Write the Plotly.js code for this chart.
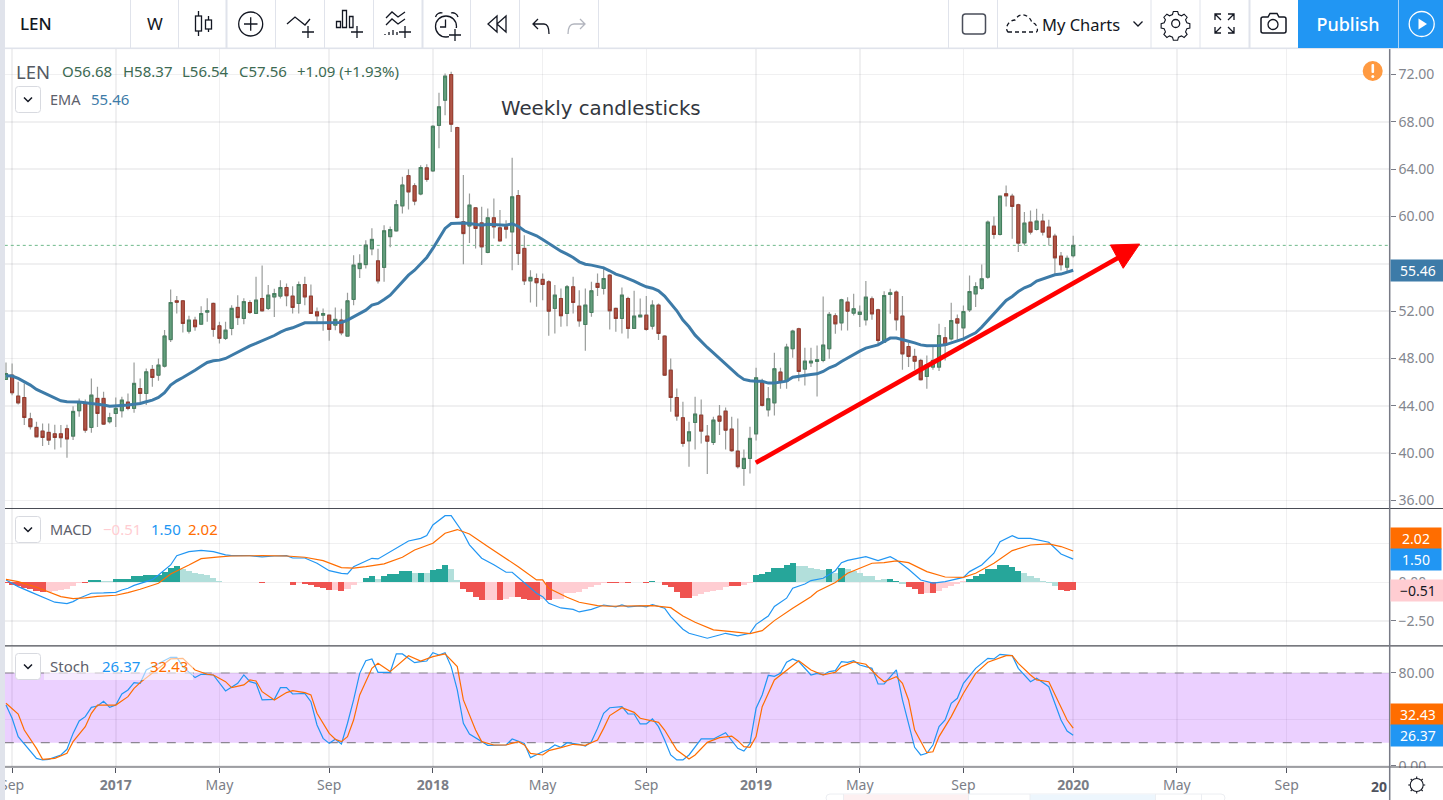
<!DOCTYPE html>
<html><head><meta charset="utf-8">
<script src="https://cdn.plot.ly/plotly-3.0.0.min.js"></script>
<style>
html,body{margin:0;padding:0;background:#fff;overflow:hidden}
#wrap{position:relative;width:1443px;height:800px}
#chart{position:absolute;left:0;top:0;width:1443px;height:800px}
#chrome{position:absolute;left:0;top:0;pointer-events:none}
#chrome text{font-family:"Noto Sans",sans-serif}
</style></head><body>
<div id="wrap"><div id="chart"></div>
<svg id="chrome" width="1443" height="800" viewBox="0 0 1443 800" xmlns="http://www.w3.org/2000/svg">
 <rect x="0" y="0" width="1443" height="48" fill="#fff"/>
 <rect x="0" y="47.5" width="1443" height="1.6" fill="#e0e3eb"/>
 <rect x="0" y="0" width="5" height="800" fill="#e0e3eb"/>
 <g stroke="#e0e3eb" stroke-width="1">
  <path d="M130.5 0V48M178.5 0V48M275.5 0V48M324.5 0V48M373.5 0V48M470.5 0V48M519.5 0V48M598.5 0V48M948.5 0V48M997.5 0V48M1151 0V48M1200 0V48"/>
  <path d="M226.5 0V48M422.5 0V48M1249.5 0V48" stroke-width="2"/>
 </g>
 <text x="20" y="30" font-size="17" font-weight="500" fill="#131722">LEN</text>
 <text x="147" y="30" font-size="17" fill="#131722">W</text>
 <g fill="none" stroke="#131722" stroke-width="1.3">
  <path d="M198.500 11V36M208.500 16V32"/>
  <rect x="195.500" y="16" width="6" height="15" fill="#fff"/><rect x="205.500" y="20" width="6" height="9" fill="#fff"/>
  <circle cx="250.7" cy="24" r="12"/><path d="M244 24H257.500M250.7 17.3V30.7"/>
  <path d="M287 24L295 17L305 25L310 19M302 32H314M308 26V38"/>
  <path d="M336.500 21.500h4v6h-4zM342.500 10.500h4v17h-4zM349.500 16.500h3.500v11h-3.500zM351 32H363M357 26V38"/>
  <path d="M386 18l6-6 6 5 7-5M386 25l6-6 6 5 7-5M385 35v-1M389 35v-3M393 35v-5M397 35v-3M399 32H411M405 26V38"/>
  <circle cx="446" cy="26.500" r="10.500"/>
  <path d="M445.500 19.500V27H440M435.500 17c1-3 4-5 7-4M451 13c3-1 6 1 7 4"/>
  <rect x="449" y="28" width="13" height="13" fill="#fff" stroke="none"/>
  <path d="M449 35H461M455 29V41"/>
  <path d="M497 16L488 24L497 32ZM506 16L497 24L506 32Z"/>
  <path d="M538 19L533 24L538 29M534 24H544C548 24 549 28 549 34"/>
  <path d="M580 19L585 24L580 29M584 24H574C570 24 568 28 568 34" stroke="#b2b5be"/>
  <rect x="962.500" y="14" width="23" height="20" rx="3" stroke="#4a4e5a" stroke-width="1.500"/>
  <path d="M1008 32H1036C1039 32 1037 22 1032 23C1030 15 1020 11 1015 20C1009 20 1004 28 1008 32Z" stroke-dasharray="4 3"/>
  <path d="M1133.500 21.500L1138 26L1142.500 21.500"/>
  <circle cx="1175.700" cy="23.500" r="4"/>
  <path d="M1173 11.500h5l1 3.500 3.500 1.500 3-1.800 3.500 3.500-1.800 3 1.500 3.500 3.500 1v5l-3.500 1-1.500 3.500 1.800 3-3.500 3.500-3-1.800-3.500 1.500-1 3.500h-5l-1-3.500-3.500-1.500-3 1.800-3.500-3.500 1.800-3-1.500-3.500-3.500-1v-5l3.500-1 1.500-3.500-1.800-3 3.500-3.500 3 1.800 3.500-1.500z" transform="translate(1175.500 23.500) scale(.86) translate(-1175.500 -25.500)"/>
  <path d="M1215 20v-6h6M1215 14l6 6M1234 20v-6h-6M1234 14l-6 6M1215 27v6h6M1215 33l6-6M1234 27v6h-6M1234 33l-6-6"/>
  <path d="M1263 17h5l2-3.500h7l2 3.500h5a2 2 0 0 1 2 2v12a2 2 0 0 1-2 2h-21a2 2 0 0 1-2-2v-12a2 2 0 0 1 2-2z" stroke-width="1.500"/>
  <circle cx="1273" cy="24.500" r="5"/>
 </g>
 <text x="1042" y="30.500" font-size="16.500" fill="#131722">My Charts</text>
 <rect x="1298" y="0" width="145" height="48" fill="#2196f3"/>
 <rect x="1398" y="0" width="1" height="48" fill="#a8d4fa"/>
 <text x="1348" y="31" font-size="18" font-weight="500" fill="#fff" text-anchor="middle">Publish</text>
 <circle cx="1421.700" cy="24" r="12.500" fill="none" stroke="#fff" stroke-width="1.300"/>
 <path d="M1418.500 18.500L1427 24L1418.500 29.500Z" fill="#fff"/>

 <circle cx="1372.700" cy="71" r="10" fill="#ff9a41"/>
 <rect x="1371.500" y="64" width="2.600" height="9" rx="1" fill="#fff"/><circle cx="1372.800" cy="76.500" r="1.500" fill="#fff"/>

 <g fill="#fff" stroke="#d8dae0">
  <rect x="15.500" y="86.500" width="25" height="26" rx="3"/>
  <rect x="15.500" y="516.500" width="25" height="26" rx="3"/>
  <rect x="15.500" y="653.500" width="25" height="26" rx="3"/>
 </g>
 <g fill="none" stroke="#131722" stroke-width="1.500">
  <path d="M24 97.500L28 101.500L32 97.500M24 527.500L28 531.500L32 527.500M24 664.500L28 668.500L32 664.500"/>
 </g>
 <rect x="1392" y="768" width="51" height="10" fill="#fff"/>
 <g fill="none" stroke="#131722" stroke-width="1.100">
  <circle cx="1416.700" cy="785" r="6.500"/>
  <path d="M1416.700 776.500v2M1416.700 791.500v2M1408.200 785h2M1423.200 785h2M1410.700 779l1.400 1.400M1421.300 789.600l1.400 1.400M1410.700 791l1.400-1.400M1421.300 780.400l1.400-1.400"/>
 </g>
 <rect x="826" y="794" width="399" height="8" rx="4" fill="#fff" stroke="#eceef2"/>
 <rect x="844" y="794.500" width="125" height="6" fill="#fdf0f1"/>
 <rect x="1030" y="794.500" width="126" height="6" fill="#edf6fd"/>
 <path d="M843.500 794V800M968.500 794V800M1030 794V800M1155.500 794V800M1201.500 794V800" stroke="#eceef2"/>
</svg></div>
<script>
// LEN weekly candles, oldest first (Sep 2016 to Jan 2020)
var opens=[46.23,46.59,44.82,44.70,42.90,42.17,41.86,41.75,41.63,41.63,
42.06,41.44,43.58,44.20,42.17,44.62,44.62,42.65,43.35,43.58,
44.31,43.78,45.46,45.04,47.07,46.59,47.35,49.60,52.87,52.87,
50.31,51.24,50.90,51.92,52.65,50.76,49.70,50.54,52.31,51.38,
52.73,51.80,53.07,52.23,53.20,53.27,54.00,53.27,52.65,54.25,
53.27,51.94,51.66,51.66,50.82,51.24,49.89,52.99,55.60,55.94,
57.27,56.25,55.70,58.30,58.79,60.90,63.45,62.60,61.90,64.11,
63.86,67.70,69.83,72.00,67.52,59.55,59.20,60.73,59.46,56.96,
59.89,59.04,59.13,58.70,61.77,57.30,54.56,54.76,54.68,54.48,
52.23,53.07,51.80,54.06,52.42,50.87,51.89,54.34,53.92,55.04,
52.23,51.38,53.07,50.54,51.52,51.66,50.73,52.51,49.89,47.01,
44.70,42.99,41.04,42.59,43.21,41.44,40.90,43.13,43.55,42.03,
40.17,38.70,39.55,41.63,46.00,43.66,44.25,46.85,46.08,48.82,
50.51,47.10,47.63,47.75,47.83,48.82,51.61,51.01,52.76,51.83,
51.72,51.27,53.04,52.11,49.38,53.41,53.61,51.58,49.01,48.17,
47.83,46.48,47.27,47.27,49.75,49.66,51.35,50.59,52.11,53.46,
53.92,54.87,59.18,58.48,61.92,61.72,60.99,57.77,59.52,58.90,
59.61,59.10,58.34,56.65,55.72,56.68];
var highs=[47.66,47.58,46.03,45.89,43.41,42.66,42.50,42.50,42.40,42.37,
42.40,43.97,44.62,44.54,46.31,45.60,45.18,43.41,44.70,44.76,
45.04,47.66,46.31,47.15,47.44,48.00,50.40,53.83,53.27,52.93,
51.60,51.52,52.42,53.10,52.73,51.10,51.10,52.50,53.35,53.10,
52.93,54.90,55.85,54.20,53.90,54.62,54.34,54.11,54.50,54.90,
54.25,52.31,52.23,51.66,52.30,52.20,53.55,56.73,56.80,58.00,
59.00,57.27,59.27,59.15,61.40,63.35,64.00,62.80,64.34,64.42,
67.72,70.45,72.08,72.23,67.58,63.50,61.94,60.80,60.82,60.68,
61.52,60.54,59.69,64.96,62.23,58.42,55.46,55.18,55.18,54.62,
54.20,53.92,54.20,54.90,53.77,53.92,54.48,55.18,55.75,55.13,
52.31,54.00,53.21,53.72,53.07,53.27,52.93,52.65,49.97,48.00,
45.46,44.34,42.65,44.76,44.54,42.37,43.07,44.06,43.86,43.07,
42.93,40.31,42.23,47.21,46.28,45.58,48.48,47.21,49.24,50.42,
50.59,48.90,48.90,49.10,53.24,51.92,51.83,53.04,53.18,53.46,
52.48,54.54,53.24,52.20,53.69,53.89,53.75,53.27,49.30,48.82,
47.97,48.25,49.10,50.93,50.65,52.70,51.72,52.48,55.01,54.45,
55.94,59.66,60.00,61.77,62.62,61.92,61.07,60.37,60.51,60.65,
60.23,59.72,58.54,56.99,56.70,58.37];
var lows=[46.23,44.90,44.11,42.37,42.00,41.32,40.60,40.68,40.30,40.48,
39.60,41.10,43.07,41.72,41.72,42.20,42.37,42.51,42.20,43.01,
43.63,43.41,44.20,44.06,45.60,46.11,47.24,49.40,51.80,50.20,
50.11,50.34,50.82,51.10,49.83,49.27,49.55,49.97,50.82,50.90,
51.75,51.80,51.94,52.10,51.50,53.07,52.42,51.80,51.80,52.50,
51.75,51.10,50.34,49.50,50.39,49.97,49.83,52.50,54.80,55.60,
56.73,54.34,54.48,57.40,58.70,60.25,60.60,60.96,61.80,62.93,
63.77,65.76,68.56,67.15,59.83,55.97,57.77,57.30,55.89,56.90,
58.14,57.86,58.14,55.46,55.89,54.20,52.73,52.37,52.93,49.92,
50.11,50.68,50.73,51.80,50.68,48.65,51.52,53.27,53.41,50.45,
50.25,50.11,49.69,50.54,51.52,50.34,50.45,49.55,46.51,43.49,
42.73,40.54,38.85,40.31,40.82,38.23,40.68,41.52,40.31,40.11,
38.70,37.24,38.28,41.07,43.94,43.10,43.18,45.44,45.44,48.06,
46.08,45.72,47.27,44.79,47.69,47.97,50.08,50.37,50.37,51.63,
50.65,50.79,51.27,49.10,49.30,51.77,50.37,47.04,47.27,47.04,
46.14,45.44,47.04,46.93,47.83,49.52,49.58,49.52,51.92,52.34,
53.80,54.73,58.11,58.39,60.85,58.11,56.99,57.55,58.48,58.82,
58.39,57.55,55.15,55.44,55.30,56.54];
var closes=[46.73,45.10,44.25,43.01,42.23,41.38,41.32,41.10,41.32,41.30,
41.20,43.52,44.34,41.94,44.90,43.35,42.45,43.01,43.78,44.48,
43.78,45.89,45.04,46.87,46.39,47.44,49.90,52.73,52.76,50.96,
51.24,50.68,51.80,52.03,50.45,49.70,50.39,52.23,51.46,52.80,
51.89,52.93,52.03,53.35,53.49,54.00,53.30,52.31,54.25,53.20,
51.80,51.60,51.80,50.45,51.30,50.17,52.87,55.89,56.03,57.58,
58.06,54.56,58.79,58.90,61.00,62.66,62.08,61.30,64.14,63.13,
67.63,69.27,71.86,67.80,59.92,58.56,60.96,58.99,57.44,59.89,
59.13,57.94,58.93,61.66,56.87,54.56,54.85,54.40,54.25,52.00,
53.35,51.61,54.06,52.73,51.18,52.51,53.72,54.00,54.76,52.03,
51.38,53.35,50.54,51.58,51.66,50.45,52.51,50.11,46.59,44.70,
43.13,40.82,41.80,43.30,41.86,41.01,42.79,42.70,41.94,40.20,
38.85,39.55,41.24,46.37,44.03,44.59,47.13,46.00,48.96,50.31,
46.90,47.77,47.77,47.89,49.13,51.72,50.93,52.96,52.00,52.20,
51.92,53.18,51.77,49.52,53.32,53.55,51.27,48.39,48.17,47.77,
46.20,47.49,47.83,49.94,49.10,51.21,50.99,51.97,53.66,54.08,
54.73,59.52,58.48,61.72,61.75,60.85,57.75,59.44,58.68,59.61,
58.68,58.25,56.51,55.92,56.47,57.56];
var ema=[46.54,46.51,46.31,46.03,45.75,45.38,45.13,44.87,44.62,44.42,
44.34,44.34,44.31,44.25,44.20,44.14,44.06,43.97,43.97,44.03,
44.06,44.11,44.20,44.34,44.48,44.70,45.10,45.75,46.11,46.39,
46.68,47.01,47.35,47.66,47.80,47.86,48.00,48.28,48.56,48.85,
49.07,49.27,49.49,49.69,49.94,50.23,50.45,50.59,50.79,51.01,
51.01,51.01,51.01,51.01,51.01,51.04,51.24,51.52,51.80,52.08,
52.51,52.65,52.99,53.35,53.92,54.48,55.04,55.46,55.97,56.54,
57.30,58.14,58.99,59.41,59.44,59.44,59.41,59.32,59.27,59.35,
59.32,59.24,59.27,59.38,59.18,58.79,58.56,58.37,58.06,57.72,
57.44,57.07,56.82,56.54,56.17,55.97,55.89,55.80,55.66,55.41,
55.13,54.96,54.76,54.54,54.28,54.06,53.94,53.72,53.27,52.65,
52.03,51.24,50.68,49.97,49.41,48.93,48.48,48.00,47.58,47.10,
46.59,46.23,46.11,46.08,46.08,45.92,45.92,46.00,46.08,46.42,
46.51,46.56,46.65,46.70,46.90,47.21,47.41,47.75,48.06,48.34,
48.62,48.87,49.01,49.15,49.44,49.72,49.72,49.61,49.46,49.32,
49.15,49.07,49.07,49.10,49.15,49.30,49.46,49.66,49.92,50.17,
50.65,51.21,51.77,52.39,52.90,53.24,53.66,53.97,54.17,54.54,
54.73,54.93,55.07,55.13,55.30,55.46];

var macdWeek=[0,1,2,4,5,6,7,8,10,11,12,13,14,16,18,19,20,21,22,24,25,27,28,30,32,34,36,37,40,42,44,46,47,49,51,53,55,56,57,60,61,63,66,68,69,70,72,73,75,76,78,80,82,83,85,87,
88,89,91,93,94,96,98,100,101,102,104,105,106,108,109,111,112,115,117,118,120,122,123,125,126,128,129,131,132,134,136,137,138,141,143,145,146,148,150,152,154,157,158,160,162,163,165,166,168,171,173,175];
var macdLine=[.15,-.06,-.28,-.62,-.78,-.97,-1.14,-1.29,-1.38,-1.25,-1.03,-.88,-.71,-.69,-.65,-.50,-.39,-.20,-.06,.17,.47,1.12,1.72,1.98,2.06,1.98,1.77,1.72,1.72,1.64,1.70,1.72,1.57,1.57,1.23,.75,.58,.54,1.0,1.55,1.51,1.98,2.67,2.84,3.02,3.71,4.31,4.31,3.17,2.42,1.56,1.13,.65,.65,-.06,-.71,
-.93,-1.36,-1.66,-1.75,-1.92,-1.75,-1.47,-1.59,-1.47,-1.59,-1.53,-1.59,-1.44,-1.68,-2.22,-3.04,-3.30,-3.62,-3.41,-3.30,-3.47,-3.30,-2.72,-2.18,-1.57,-1.03,-.39,-.11,.11,.26,.75,1.27,1.42,1.66,1.40,1.66,1.44,.84,.15,-.06,.04,.32,.69,1.12,1.88,2.63,3.02,2.84,2.84,2.59,1.83,1.50];
var signalWeek=[0,2,5,7,9,11,13,15,18,20,22,25,27,30,32,35,37,42,46,49,52,55,57,59,62,65,67,70,72,74,76,79,82,84,87,
88,89,92,94,97,99,102,106,109,111,113,116,119,122,124,126,129,132,133,136,138,142,144,146,148,151,154,157,159,162,165,168,171,173,175];
var signalLine=[.19,.04,-.32,-.65,-.93,-1.06,-1.01,-.91,-.84,-.67,-.45,-.06,.54,1.12,1.53,1.64,1.70,1.72,1.70,1.62,1.40,.95,.91,1.01,1.19,1.62,2.09,2.52,3.17,3.41,3.12,2.31,1.55,1.01,.15,
.15,-.39,-.97,-1.29,-1.51,-1.55,-1.53,-1.51,-1.64,-2.18,-2.59,-3.08,-3.19,-3.32,-3.13,-2.48,-1.68,-.93,-.60,-.02,.58,1.23,1.27,1.38,1.27,.69,.34,.32,.58,1.23,2.05,2.41,2.48,2.31,2.02];
var macdHist=[-.05,-.2,-.22,-.4,-.45,-.55,-.65,-.6,-.55,-.5,
-.42,-.25,-.05,-.05,.15,.15,.1,.1,.2,.2,
.2,.38,.38,.47,.47,.47,.69,.9,1.03,.84,
.72,.63,.56,.47,.26,.08,.02,.01,.01,.01,
.01,.01,-.05,.01,.01,.01,0,-.15,-.02,-.1,
-.2,-.3,-.4,-.47,-.47,-.58,-.45,-.17,.05,.26,
.39,.2,.41,.52,.52,.71,.71,.63,.63,.58,
.8,.86,1.12,.86,.13,-.43,-.6,-.93,-1.14,-1.14,
-1.14,-1.14,-1.1,-.93,-.93,-1.08,-1.14,-1.14,-1.1,-1.14,
-1.05,-1.05,-.7,-.7,-.6,-.45,-.32,-.15,-.04,-.05,
-.07,-.02,-.05,-.01,-.01,-.04,.06,-.01,-.15,-.32,
-.6,-.99,-.99,-.86,-.75,-.65,-.55,-.47,-.3,-.26,
-.26,-.2,-.05,.45,.52,.65,.93,.93,1.1,1.27,
1.08,1.08,.9,.84,.8,.84,.58,.9,.84,.73,
.58,.43,.43,.15,.21,.21,.06,-.1,-.28,-.45,
-.75,-.71,-.71,-.56,-.39,-.24,-.11,.06,.2,.39,
.52,.84,.84,1.1,1.1,1.01,.71,.58,.41,.26,
.11,-.06,-.24,-.5,-.58,-.51];
// R dark red, r pale red, G dark green, g pale green
var macdHistKind="RRRRRRRrrr"+"rrrRGGggGG"+"GGGGGGGGGg"+"gggggggggg"+"ggRggggRrR"+"RRRRrRrrGG"+"GgGGGGGgGg"+"GGGggRRRRr"+"rRrrRRRRrR"+"rrrrrrrrrR"+"RrRrrRGrRR"+"RRRrrrrrrR"+"RrrGGGGGGG"+"gggggGgGgg"+"gggggGGgRR"+"RrRrrrrrGG"+"GGGGGGGggg"+"gggRRRRr".slice(0,6);

var stochKWeek=[0,1,2,4,5,6,7,9,10,11,12,13,14,15,16,17,18,19,20,21,22,23,25,27,28,29,31,32,34,36,38,39,40,41,42,44,45,46,47,49,50,51,52,53,54,55,56,57,58,59,60,61,63,64,65,67,68,69,70,71,72,73,74,75,76,78,79,82,83,85,86,
88,89,90,91,92,94,95,96,97,98,99,101,102,103,104,105,106,107,108,109,110,111,112,114,116,118,120,121,122,123,124,125,126,127,128,129,130,132,133,134,135,136,137,138,139,140,142,143,144,146,147,149,150,151,152,153,154,155,156,157,159,161,162,163,165,166,168,169,171,173,174,175];
var stochK=[52.4,41.0,25.2,12.2,6.5,5.1,5.6,9.4,14.3,28,38.7,42.4,50.4,51.6,55.6,50.4,52.4,61.9,65.4,71.7,71.1,82.6,88.3,93.5,93.5,85.5,76,78.9,78.3,64.5,71.1,78.3,72.5,71.1,56.8,57.3,67.4,67.4,61.9,62.5,55.3,35.2,23.7,19.4,22.9,18.9,36.7,56.8,79.7,90.6,92.1,80.6,80.6,96.4,96.4,88.9,89.8,90.3,97.5,95.5,97.5,85.5,65.4,36.7,27.5,20.9,17.7,18,23.2,19.4,7.1,
12.2,14.3,18,16,20,18.6,17.1,20.9,32.3,45.3,50.1,51,44.7,44.7,36.1,36.1,40.4,33.8,22.3,9.4,5.1,5.1,9.4,23.2,23.2,28.6,15.1,12.8,19.4,49.6,61.1,78,77.1,79.7,89.2,92.1,89.8,78.3,79.7,78.3,81.2,82,89.8,89.2,90.6,86.9,84,70.5,70.5,82.6,56.8,16,9.4,10.8,18,33.8,39.5,53.9,58.2,71.1,84,92.6,92.1,96.1,94.9,84,72.5,75.4,68.2,39.5,30,26.37];
var stochDWeek=[0,2,3,5,6,8,10,11,13,14,15,18,20,21,22,24,26,27,29,31,33,34,36,37,39,40,41,42,44,46,47,49,50,51,53,54,55,56,57,58,60,61,63,65,66,68,70,72,74,75,77,78,80,82,84,85,86,
88,89,91,93,95,97,98,99,101,103,104,107,108,110,112,113,115,117,119,120,121,122,123,124,126,128,130,132,134,136,137,139,141,143,144,146,147,148,149,151,152,153,155,157,159,161,164,165,166,168,169,171,173,174,175];
var stochD=[53.9,44.7,30.9,15.1,5.6,6.5,10.8,20.9,33.8,45.3,52.4,52.4,59.6,66.8,71.7,79.7,87.8,92.1,92.6,82.6,78.9,78.3,72.5,67.4,69.7,74,73.1,63.9,56.8,63.1,64.8,63.1,61.1,45.3,28,22.9,20.9,25.2,39.5,61.1,84,88.3,81.2,89.8,94.9,90.3,94.1,96.4,85.5,56.8,30.9,20.9,18,18,20.9,18,10.8,
9.4,13.1,15.7,18.6,17.7,22.3,32.3,43.3,50.1,46.1,41,37.5,30.9,13.7,5.9,9.4,20.3,24.3,25.7,21.7,16.6,16,25.2,51,74,82.6,90.6,82.6,78.3,80.6,85.5,89.5,87.5,76.8,72.5,76.8,71.1,56.8,30.9,11.4,12.2,25.2,42.4,62.5,79.7,89.2,94.9,94.9,88.3,78.3,74,72.5,51,39.5,32.43];

var tickWeeks=[1,18,35,53,70,88,105,123,140,157,175,192,210];
var tickLabels=["Sep","<b>2017</b>","May","Sep","<b>2018</b>","May","Sep","<b>2019</b>","May","Sep","<b>2020</b>","May","Sep"];
var priceTicks=[36,40,44,48,52,56,60,64,68,72];
var priceLabels=["36.00","40.00","44.00","48.00","52.00","","60.00","64.00","68.00","72.00"];
var macdTicks=[-2.5,0,2.5];
var macdLabels=["\u22122.50","0.00",""];
var stochTicks=[0,40,80];
var stochLabels=["0.00","","80.00"];
var lastClose=57.56, lastEma=55.46, lastHist=-0.51, lastMacd=1.50, lastSignal=2.02, lastK=26.37, lastD=32.43;
var trendStart=[122.95,39.18], trendEnd=[182.6,56.57];
var trendHead=[[181.1,57.59],[185.9,57.67],[183.2,55.62]];

var weeks=opens.map(function(_,i){return i;});
var W=1443,H=800, FONT='"Noto Sans",sans-serif';
function px(x){return x/W;} function py(y){return 1-y/H;}
var GRID='rgba(42,46,57,0.07)', AX='#787b86', TICKTXT='#83868e';
var histColors=macdHist.map(function(_,i){return {R:'#ef5350',r:'#ffcdd2',G:'#26a69a',g:'#b2dfdb'}[macdHistKind.charAt(i)]||'#ffcdd2';});

var traces=[
 {type:'candlestick',x:weeks,open:opens,high:highs,low:lows,close:closes,xaxis:'x',yaxis:'y',whiskerwidth:0,
  increasing:{line:{color:'#9a9d9b',width:1.2},fillcolor:'#5f9a78'},decreasing:{line:{color:'#9a9d9b',width:1.2},fillcolor:'#ab4f42'},hoverinfo:'skip',showlegend:false},
 {type:'candlestick',x:weeks,open:opens,close:closes,
  high:opens.map(function(o,i){return Math.max(o,closes[i]);}),low:opens.map(function(o,i){return Math.min(o,closes[i]);}),
  xaxis:'x',yaxis:'y',whiskerwidth:0,
  increasing:{line:{color:'#447f5e',width:1},fillcolor:'#649e7d'},decreasing:{line:{color:'#97392c',width:1},fillcolor:'#b05648'},hoverinfo:'skip',showlegend:false},
 {type:'scatter',mode:'lines',x:weeks,y:ema,xaxis:'x',yaxis:'y',line:{color:'#3d7ba8',width:3},hoverinfo:'skip',showlegend:false},
 {type:'bar',x:weeks,y:macdHist,xaxis:'x',yaxis:'y2',marker:{color:histColors,line:{width:0}},width:1,hoverinfo:'skip',showlegend:false},
 {type:'scatter',mode:'lines',x:macdWeek,y:macdLine,xaxis:'x',yaxis:'y2',line:{color:'#2196f3',width:1.2},hoverinfo:'skip',showlegend:false},
 {type:'scatter',mode:'lines',x:signalWeek,y:signalLine,xaxis:'x',yaxis:'y2',line:{color:'#ff6d00',width:1.2},hoverinfo:'skip',showlegend:false},
 {type:'scatter',mode:'lines',x:stochKWeek,y:stochK,xaxis:'x',yaxis:'y3',line:{color:'#2196f3',width:1.2},hoverinfo:'skip',showlegend:false},
 {type:'scatter',mode:'lines',x:stochDWeek,y:stochD,xaxis:'x',yaxis:'y3',line:{color:'#ff6d00',width:1.2},hoverinfo:'skip',showlegend:false}
];

function paperLine(x0,y0,x1,y1,c,w){return {type:'line',xref:'paper',yref:'paper',x0:px(x0),x1:px(x1),y0:py(y0),y1:py(y1),line:{color:c,width:w||1},layer:'above'};}
var shapes=[
 {type:'rect',xref:'x',yref:'y3',x0:-0.2,x1:226.9,y0:20,y1:80,fillcolor:'rgba(153,21,255,0.2)',line:{width:0},layer:'between'},
 {type:'line',xref:'x',yref:'y3',x0:-0.2,x1:226.9,y0:80,y1:80,line:{color:'#8c8692',width:1.2,dash:'dash'},layer:'between'},
 {type:'line',xref:'x',yref:'y3',x0:-0.2,x1:226.9,y0:20,y1:20,line:{color:'#8c8692',width:1.2,dash:'dash'},layer:'between'},
 {type:'line',xref:'x',yref:'y',x0:-0.2,x1:226.9,y0:lastClose,y1:lastClose,line:{color:'#6fb98a',width:1,dash:'dot'},layer:'between'},
 {type:'rect',xref:'paper',yref:'paper',x0:px(495),x1:px(710),y0:py(128),y1:py(97),fillcolor:'#ffffff',line:{width:0},layer:'between'},
 {type:'line',xref:'x',yref:'y',x0:trendStart[0],y0:trendStart[1],x1:trendEnd[0],y1:trendEnd[1],line:{color:'#ff0000',width:4.6},layer:'above'},
 {type:'path',xref:'x',yref:'y',path:'M '+trendHead[0].join(' ')+' L '+trendHead[1].join(' ')+' L '+trendHead[2].join(' ')+' Z',fillcolor:'#ff0000',line:{color:'#ff0000',width:1},layer:'above'},
 {type:'rect',xref:'paper',yref:'paper',x0:px(44),x1:px(193),y0:py(680),y1:py(650),fillcolor:'rgba(255,255,255,0.55)',line:{width:0},layer:'above'},
 paperLine(5,508.5,1443,508.5,'#4a4d55',1.2),
 paperLine(5,645.8,1443,645.8,'#4a4d55',1.2),
 paperLine(5,767,1443,767,'#4a4d55',1.2),
 paperLine(1389.7,48,1389.7,800,AX,1.5)
];

function txt(t,x,y,size,color,anchor){return {text:t,xref:'paper',yref:'paper',x:px(x-2),y:py(y),xanchor:anchor||'left',yanchor:'middle',showarrow:false,font:{family:FONT,size:size,color:color}};}
function badge(t,yref,val,bg,fg,wid,shift){return {text:t,xref:'paper',yref:yref,x:px(1389.8),y:val,xanchor:'left',yanchor:'middle',showarrow:false,width:wid,height:21,align:'center',bgcolor:bg,borderpad:0,yshift:shift||0,font:{family:FONT,size:14,color:fg}};}
var annotations=[
 txt('LEN',16,71,18.5,'#555a63'),
 txt('O56.68',62,71,15,'#3c6a52'),txt('H58.37',122.5,71,15,'#3c6a52'),txt('L56.54',181.5,71,15,'#3c6a52'),
 txt('C57.56',239,71,15,'#3c6a52'),txt('+1.09 (+1.93%)',296.5,71,15,'#3c6a52'),
 txt('EMA',50,99,14.5,'#5d606b'),txt('55.46',91,99,15,'#3d7ba8'),
 txt('MACD',50,529,14.5,'#5d606b'),txt('\u22120.51',102.5,529,15,'#ffcdd2'),txt('1.50',150.5,529,15,'#2196f3'),txt('2.02',188.5,529,15,'#ff6d00'),
 txt('Stoch',50,666,15,'#5d606b'),txt('26.37',101.5,666,15,'#2196f3'),txt('32.43',150,666,15,'#ff6d00'),
 txt('Weekly candlesticks',501,109,19.8,'#333740'),
 txt('<b>20</b>',1391,786,14,'#50535e','right'),
 badge('55.46','y',lastEma,'#3d7ba8','#ffffff',54),
 badge('2.02','y2',lastSignal,'#ff6d00','#ffffff',50,13),
 badge('1.50','y2',lastMacd,'#2196f3','#ffffff',50),
 badge('\u22120.51','y2',lastHist,'#ffcdd2','#131722',54),
 badge('32.43','y3',lastD,'#ff6d00','#ffffff',54,14),
 badge('26.37','y3',lastK,'#2196f3','#ffffff',54)
];
annotations[15].font.family='"DejaVu Sans",sans-serif';

function yax(dom,rng,ticks,labels){return {domain:dom,range:rng,side:'right',anchor:'x',tickmode:'array',tickvals:ticks,ticktext:labels,
 showgrid:true,gridcolor:GRID,gridwidth:1.5,zeroline:false,showline:false,ticks:'outside',ticklen:5,tickcolor:AX,tickwidth:1,
 tickfont:{family:FONT,size:14,color:TICKTXT},ticklabeloverflow:'allow',fixedrange:true};}

var layout={width:W,height:H,margin:{l:0,r:0,t:0,b:0},paper_bgcolor:'#ffffff',plot_bgcolor:'#ffffff',showlegend:false,
 bargap:0,dragmode:false,hovermode:false,
 xaxis:{domain:[px(5),px(1389.7)],range:[-0.164,226.9],anchor:'y3',tickmode:'array',tickvals:tickWeeks,ticktext:tickLabels,
  showgrid:true,gridcolor:GRID,gridwidth:1.5,zeroline:false,showline:false,ticks:'outside',ticklen:5,tickcolor:'#50535e',tickwidth:1,
  tickfont:{family:FONT,size:14,color:'#7b7e87'},ticklabeloverflow:'allow',tickangle:0,rangeslider:{visible:false},fixedrange:true},
 yaxis:yax([py(508),py(48.5)],[35.36,74.2],priceTicks,priceLabels),
 yaxis2:yax([py(645.5),py(509)],[-4.09,4.74],macdTicks,macdLabels),
 yaxis3:yax([py(767),py(646.5)],[-0.95,102.8],stochTicks,stochLabels),
 shapes:shapes,annotations:annotations};
Plotly.newPlot('chart',traces,layout,{staticPlot:true,displayModeBar:false});
</script></body></html>
